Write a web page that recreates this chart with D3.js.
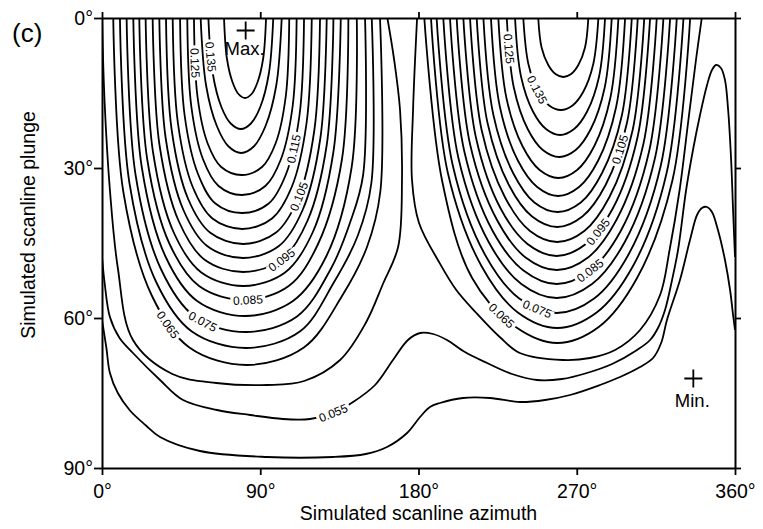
<!DOCTYPE html>
<html><head><meta charset="utf-8">
<script src="https://cdn.jsdelivr.net/npm/d3@7"></script>
<style>
body{margin:0;background:#fff;}
svg{display:block;font-family:"Liberation Sans",Arial,Helvetica,sans-serif;}
</style></head><body>
<svg id="chart" width="763" height="529"></svg>
<script>
// ---------- data (azimuth°, plunge°) ----------
const azimuthTicks = [0, 90, 180, 270, 360];
const plungeTicks = [0, 30, 60, 90];

// contours of the lobe round the maximum near azimuth 82°
const leftLobe = [
 [0.140, [[69.4,0],[71.0,8],[74.2,12.8],[77.6,15.2],[81.4,16],[85.1,15.2],[88.5,12.8],[91.7,8],[93.3,0]]],
 [0.135, [[60.5,0],[63.0,11.1],[67.9,17.8],[73.2,21.1],[79.0,22.2],[84.7,21.1],[90.0,17.8],[94.9,11.1],[97.4,0]]],
 [0.130, [[56.1,0],[59.2,13.5],[65.3,21.6],[72.0,25.7],[79.2,27],[86.3,25.7],[93.0,21.6],[99.1,13.5],[102.2,0]]],
 [0.125, [[52.3,0],[54.3,15.7],[60.1,25.1],[67.8,29.8],[79.4,31.4],[91.0,29.8],[98.7,25.1],[104.5,15.7],[106.5,0]]],
 [0.120, [[48.5,0],[50.8,17.7],[57.5,28.3],[66.3,33.6],[79.6,35.4],[92.9,33.6],[101.7,28.3],[108.4,17.7],[110.7,0]]],
 [0.115, [[44.4,0],[47.0,19.5],[54.6,31.2],[64.5,37.1],[79.7,39],[94.8,37.1],[104.7,31.2],[112.3,19.5],[114.9,0]]],
 [0.110, [[40.2,0],[43.2,21.1],[51.6,33.8],[62.8,40.1],[79.8,42.2],[96.7,40.1],[107.9,33.8],[116.3,21.1],[119.3,0]]],
 [0.105, [[36.4,0],[39.7,22.6],[49.0,36.2],[61.4,42.9],[80.2,45.2],[99.0,42.9],[111.4,36.2],[120.7,22.6],[124.0,0]]],
 [0.100, [[32.6,0],[36.2,24],[46.3,38.4],[59.8,45.6],[80.2,48],[100.6,45.6],[114.1,38.4],[124.2,24],[127.8,0]]],
 [0.095, [[28.8,0],[32.7,25.4],[43.6,40.6],[58.2,48.3],[80.2,50.8],[102.3,48.3],[116.8,40.6],[127.8,25.4],[131.6,0]]],
 [0.090, [[24.8,0],[29.0,26.8],[40.8,42.9],[56.5,50.9],[80.3,53.6],[104.1,50.9],[119.8,42.9],[131.6,26.8],[135.8,0]]],
 [0.085, [[21.2,0],[25.7,28.2],[38.3,45.1],[55.2,53.6],[80.7,56.4],[106.2,53.6],[123.0,45.1],[136.5,28.2],[140.1,0]]],
 [0.080, [[17.8,0],[22.6,29.8],[36.1,47.7],[54.1,56.6],[81.4,59.6],[108.6,56.6],[127.5,47.7],[142.0,29.8],[144.9,0]]],
 [0.075, [[14.0,0],[19.1,31.4],[33.5,50.2],[52.7,59.7],[81.8,62.8],[110.9,59.7],[130.1,50.2],[141.0,41],[148.5,31.4],[149.6,0]]],
 [0.070, [[10.2,0],[15.6,33],[30.8,52.8],[51.1,62.7],[81.8,66],[112.5,62.7],[132.0,52.8],[145.5,43.5],[153.2,33],[153.4,0]]],
 [0.065, [[6.4,0],[12.1,34.7],[28.3,55.5],[49.7,65.9],[82.3,69.4],[114.8,65.9],[136.5,55.6],[150.7,45.8],[158.3,34.7],[158.1,0]]],
 [0.060, [[0,0],[1.5,17],[4.5,34.4],[9,50],[17.6,64.4],[40,71.2],[65,73],[94,73.4],[115,72.6],[135.4,68.4],[150,61],[160,53],[168.4,45.8],[170.6,32.4],[169.5,18.4],[166,8],[162.3,0]]]
];

// contours of the lobe round the second maximum near azimuth 262°
const rightLobe = [
 [0.140, [[248.1,0],[250.0,5.9],[253.8,9.4],[257.9,11.2],[262.4,11.8],[266.8,11.2],[270.9,9.4],[274.7,5.9],[276.6,0]]],
 [0.135, [[239.6,0],[242.5,9.2],[248.1,14.7],[254.3,17.5],[261.0,18.4],[267.6,17.5],[273.8,14.7],[279.4,9.2],[282.3,0]]],
 [0.130, [[234.9,0],[238.3,11.7],[245.1,18.7],[252.5,22.2],[260.5,23.4],[268.5,22.2],[275.9,18.7],[282.7,11.7],[286.1,0]]],
 [0.125, [[230.2,0],[234.2,13.9],[242.1,22.2],[250.7,26.4],[260.1,27.8],[269.4,26.4],[278.0,22.2],[285.9,13.9],[289.9,0]]],
 [0.120, [[225.4,0],[230.0,16],[239.1,25.6],[248.9,30.4],[259.6,32],[270.2,30.4],[280.0,25.6],[289.1,16],[293.7,0]]],
 [0.115, [[221.2,0],[226.3,17.8],[236.5,28.5],[247.5,33.8],[259.4,35.6],[271.3,33.8],[282.2,28.5],[292.4,17.8],[297.5,0]]],
 [0.110, [[216.9,0],[222.6,19.4],[233.8,31],[245.9,36.9],[259.1,38.8],[272.3,36.9],[284.4,31],[295.7,19.4],[301.3,0]]],
 [0.105, [[213.1,0],[219.2,20.9],[231.4,33.4],[244.6,39.7],[258.9,41.8],[273.2,39.7],[286.4,33.4],[298.6,20.9],[304.7,0]]],
 [0.100, [[209.3,0],[215.9,22.4],[229.1,35.8],[243.4,42.6],[258.9,44.8],[274.3,42.6],[288.6,35.8],[301.8,22.4],[308.4,0]]],
 [0.095, [[205.5,0],[212.6,23.8],[226.7,38.1],[242.0,45.2],[258.6,47.6],[275.2,45.2],[290.5,38.1],[304.6,23.8],[311.7,0]]],
 [0.090, [[201.7,0],[209.3,25.2],[224.5,40.3],[240.9,47.9],[258.6,50.4],[276.4,47.9],[292.7,40.3],[307.9,25.2],[315.5,0]]],
 [0.085, [[197.9,0],[206.0,26.6],[222.2,42.6],[239.7,50.5],[258.6,53.2],[277.5,50.5],[295.0,42.6],[311.2,26.6],[319.3,0]]],
 [0.080, [[194.1,0],[202.7,28],[219.9,44.8],[238.5,53.2],[258.6,56],[278.7,53.2],[297.3,44.8],[314.5,28],[323.1,0]]],
 [0.075, [[190.3,0],[199.5,29.5],[217.6,47.2],[237.3,56.1],[258.6,59],[279.9,56.1],[299.6,47.2],[317.8,29.5],[326.9,0]]],
 [0.070, [[187.1,0],[196.7,31],[215.8,49.6],[236.5,58.9],[258.9,62],[281.3,58.9],[302.0,49.6],[321.1,31],[330.7,0]]],
 [0.065, [[183.3,0],[193.4,32.5],[210.5,52],[235.3,61.8],[258.9,65],[282.5,61.8],[304.3,52],[324.4,32.5],[334.5,0]]],
 [0.060, [[179.2,0],[176.9,18.4],[176.3,32.4],[180.3,41],[192,49],[201.5,54.4],[212.9,59],[226.2,63.8],[237.6,67],[262.2,68.4],[277.5,68],[291.8,66.4],[306,62.4],[317.4,55.4],[322.8,46.4],[328.5,34.4],[333.5,20.4],[337.8,8.4],[341.1,0]]]
];

// lowest contours that run across the whole diagram
const outerLines = [
 [0.055, [[0,47.8],[1.5,53],[4.5,59.8],[10,64],[17.6,67],[33,72.4],[46.1,76.4],[65.4,78.4],[84.2,79.4],[102.9,80.2],[118.3,80.2],[131.4,79],[142.8,76.8],[155.3,73.4],[165.5,68.4],[174,64.4],[180.9,63],[188.3,63.2],[196.2,64.4],[206.4,66.8],[219,69],[233.2,71.2],[247.4,72.4],[261.6,72.2],[275.8,71],[290.1,69.2],[304.3,66.4],[311.7,64.4],[316.2,62],[320.2,58.4],[324.2,52.4],[327.6,46.4],[332.2,34.4],[336.1,26.4],[340.1,19.4],[344.1,13.4],[346.9,10.4],[349.2,9.4],[352,10],[354.3,12.4],[356.1,18.4],[357.8,28.4],[358.9,38.4],[360,47.8]]],
 [0.050, [[0,60.4],[2.5,66],[4.5,71],[9,75],[15.9,78.5],[25,81.5],[33,83.8],[55.7,86.6],[93.8,87.8],[131.4,87.8],[150,87.2],[162.1,85.8],[173.5,83],[180.9,79.8],[186.5,77.8],[192.2,77],[205.3,76],[220.7,76],[237.7,76.8],[252,76.4],[266.2,75.4],[283.2,73.4],[294.6,71.8],[306,69.8],[313.4,68],[318,65],[321.3,60.4],[328.7,52.4],[334.4,44.4],[338.4,39.4],[341.2,38],[344.1,37.8],[346.9,38.8],[350.3,42.4],[354.3,48.4],[357.2,54.4],[358.9,59.4],[360,62.4]]]
];

// contour labels: [line id, text, approx. azimuth, approx. plunge]
const contourLabels = [
 ["L135","0.135",61.4,7.8], ["L125","0.125",52.5,9], ["L115","0.115",112.6,26.4],
 ["L105","0.105",112.6,35.8], ["L095","0.095",102.4,48.4], ["L085","0.085",83,57],
 ["L075","0.075",58.6,59.8], ["L065","0.065",39.8,60.8], ["O055","0.055",131.4,79],
 ["R125","0.125",230.5,6.2], ["R135","0.135",250.2,13.8], ["R105","0.105",295.7,26.4],
 ["R095","0.095",283.2,43], ["R085","0.085",277.5,50.4], ["R075","0.075",248,57.8],
 ["R065","0.065",223.5,61]
];

const extremes = [["Max.", 81.7, 2.5], ["Min.", 336.3, 72.1]];

// ---------- drawing ----------
const W = 763, H = 529;
const x = d3.scaleLinear().domain([0, 360]).range([102, 735]);
const y = d3.scaleLinear().domain([0, 90]).range([18, 468]);
const svg = d3.select("#chart");
const defs = svg.append("defs");
defs.append("clipPath").attr("id", "plotClip").append("rect")
  .attr("x", x(0)).attr("y", y(0)).attr("width", x(360) - x(0)).attr("height", y(90) - y(0));
const mask = defs.append("mask").attr("id", "labelMask").attr("maskUnits", "userSpaceOnUse")
  .attr("x", 0).attr("y", 0).attr("width", W).attr("height", H);
mask.append("rect").attr("width", W).attr("height", H).attr("fill", "#fff");

const lines = [];
const key = lv => String(Math.round(lv * 1000)).padStart(3, "0");
leftLobe.forEach(([lv, pts]) => lines.push({ id: "L" + key(lv), pts }));
rightLobe.forEach(([lv, pts]) => lines.push({ id: "R" + key(lv), pts }));
outerLines.forEach(([lv, pts]) => lines.push({ id: "O" + key(lv), pts }));

const lineGen = d3.line().x(d => x(d[0])).y(d => y(d[1])).curve(d3.curveCatmullRom.alpha(0.5));
const gC = svg.append("g").attr("clip-path", "url(#plotClip)").append("g").attr("mask", "url(#labelMask)");
const paths = {};
lines.forEach(l => {
  paths[l.id] = gC.append("path").attr("d", lineGen(l.pts)).attr("fill", "none")
    .attr("stroke", "#000").attr("stroke-width", 1.8).attr("stroke-linejoin", "round").node();
});

// labels on the lines
const gL = svg.append("g");
contourLabels.forEach(([id, txt, az, pl]) => {
  const p = paths[id], L = p.getTotalLength();
  const px = x(az), py = y(pl);
  let best = 0, bd = Infinity;
  for (let s = 0; s <= L; s += 0.5) {
    const q = p.getPointAtLength(s);
    const d = (q.x - px) ** 2 + (q.y - py) ** 2;
    if (d < bd) { bd = d; best = s; }
  }
  const a = p.getPointAtLength(Math.max(0, best - 5)), b = p.getPointAtLength(Math.min(L, best + 5));
  let ang = Math.atan2(b.y - a.y, b.x - a.x) * 180 / Math.PI;
  if (ang > 100) ang -= 180; if (ang < -100) ang += 180;
  const c = p.getPointAtLength(best);
  const tr = `translate(${c.x},${c.y}) rotate(${ang})`;
  const t = gL.append("text").attr("transform", tr).attr("text-anchor", "middle")
    .attr("dy", "0.36em").attr("font-size", 12).attr("fill", "#000").text(txt);
  const w = t.node().getComputedTextLength();
  mask.append("rect").attr("x", -w / 2 - 2.5).attr("y", -3.2).attr("width", w + 5).attr("height", 6.4)
    .attr("transform", tr).attr("fill", "#000");
});

// axes
function styleAxis(g) {
  g.attr("font-family", null).attr("font-size", 19.5);
  g.selectAll(".domain").attr("stroke", "#000").attr("stroke-width", 2);
  g.selectAll(".tick line").attr("stroke", "#000").attr("stroke-width", 1.8);
  g.selectAll(".tick text").attr("fill", "#000");
}
svg.append("g").attr("transform", `translate(0,${y(90)})`)
  .call(d3.axisBottom(x).tickValues(azimuthTicks).tickFormat(d => d + "°").tickSize(7).tickSizeOuter(0).tickPadding(9))
  .call(styleAxis);
svg.append("g").attr("transform", `translate(0,${y(0)})`)
  .call(d3.axisTop(x).tickValues(azimuthTicks).tickFormat("").tickSize(6).tickSizeOuter(0))
  .call(styleAxis);
svg.append("g").attr("transform", `translate(${x(0)},0)`)
  .call(d3.axisLeft(y).tickValues(plungeTicks).tickFormat(d => d + "°").tickSize(8).tickSizeOuter(0).tickPadding(1))
  .call(styleAxis);
svg.append("g").attr("transform", `translate(${x(360)},0)`)
  .call(d3.axisRight(y).tickValues(plungeTicks).tickFormat("").tickSize(6).tickSizeOuter(0))
  .call(styleAxis);

// extremes
const offs = { "Max.": 24, "Min.": 28 };
extremes.forEach(([name, az, pl]) => {
  const cx = x(az), cy = y(pl);
  svg.append("path").attr("d", `M${cx - 9},${cy}H${cx + 9}M${cx},${cy - 9}V${cy + 9}`)
    .attr("stroke", "#000").attr("stroke-width", 1.8).attr("fill", "none");
  svg.append("text").attr("x", cx - 1).attr("y", cy + offs[name]).attr("text-anchor", "middle")
    .attr("font-size", 18.5).attr("fill", "#000").text(name);
});

// titles
svg.append("text").attr("x", (x(0) + x(360)) / 2).attr("y", 520).attr("text-anchor", "middle")
  .attr("font-size", 19.5).text("Simulated scanline azimuth");
svg.append("text").attr("transform", "translate(35,225) rotate(-90)").attr("text-anchor", "middle")
  .attr("font-size", 19.5).text("Simulated scanline plunge");
svg.append("text").attr("x", 12).attr("y", 42).attr("font-size", 26).text("(c)");
</script>
</body></html>
